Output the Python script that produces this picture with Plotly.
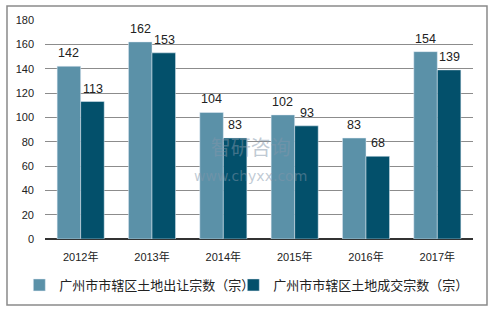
import plotly.graph_objects as go

years = ["2012年", "2013年", "2014年", "2015年", "2016年", "2017年"]
offered = [142, 162, 104, 102, 83, 154]
traded = [113, 153, 83, 93, 68, 139]
name1 = "广州市市辖区土地出让宗数（宗）"
name2 = "广州市市辖区土地成交宗数（宗）"

FONT = "Liberation Sans, Noto Sans CJK SC, sans-serif"
LFONT = dict(size=13, family="Noto Sans CJK SC, sans-serif", color="#222")

fig = go.Figure()
fig.add_trace(go.Bar(x=years, y=offered, name=name1, marker_color="#5B91A8", legend="legend"))
fig.add_trace(go.Bar(x=years, y=traded, name=name2, marker_color="#03506B", legend="legend2"))

for xs, vals in ((-12, offered), (12, traded)):
    for yr, v in zip(years, vals):
        fig.add_annotation(x=yr, y=v, text=str(v), showarrow=False, xshift=xs,
                           yshift=4, yanchor="bottom",
                           font=dict(size=12.5, color="#222", family=FONT))

fig.update_layout(
    width=495, height=309,
    margin=dict(l=45, r=22, t=20, b=70, autoexpand=False),
    paper_bgcolor="white", plot_bgcolor="white",
    barmode="group", bargap=0.34, bargroupgap=0,
    font=dict(family=FONT, size=11, color="#222"),
    showlegend=True,
    legend=dict(orientation="h", x=-0.06, xanchor="left", y=-0.21, yanchor="middle",
                font=LFONT, itemwidth=30, bgcolor="rgba(0,0,0,0)"),
    legend2=dict(orientation="h", x=0.44, xanchor="left", y=-0.21, yanchor="middle",
                 font=LFONT, itemwidth=30, bgcolor="rgba(0,0,0,0)"),
    xaxis=dict(showgrid=False, showline=True, linecolor="#333", linewidth=1,
               ticks="", tickfont=dict(size=11), ticklabelstandoff=8),
    yaxis=dict(range=[0, 180], dtick=20, showgrid=True, gridcolor="#8c8c8c",
               gridwidth=1, zeroline=True, zerolinecolor="#333", showline=False,
               ticks="", tickfont=dict(size=11), ticklabelstandoff=10),
)

fig.add_shape(type="rect", xref="paper", yref="paper",
              x0=-0.0888, x1=1.0327, y0=-0.301, y1=1.064,
              line=dict(color="#8a8a8a", width=1.5), fillcolor="rgba(0,0,0,0)", layer="below")

fig.add_annotation(xref="paper", yref="paper", x=0.479, y=0.37, yanchor="middle",
                   text="智研咨询<br><span style='font-size:14px;font-family:DejaVu Sans'>www.chyxx.com</span>",
                   showarrow=False, font=dict(size=20, color="rgba(130,150,170,0.5)",
                                              family="Noto Sans CJK SC"))

fig.write_html("out.html")
